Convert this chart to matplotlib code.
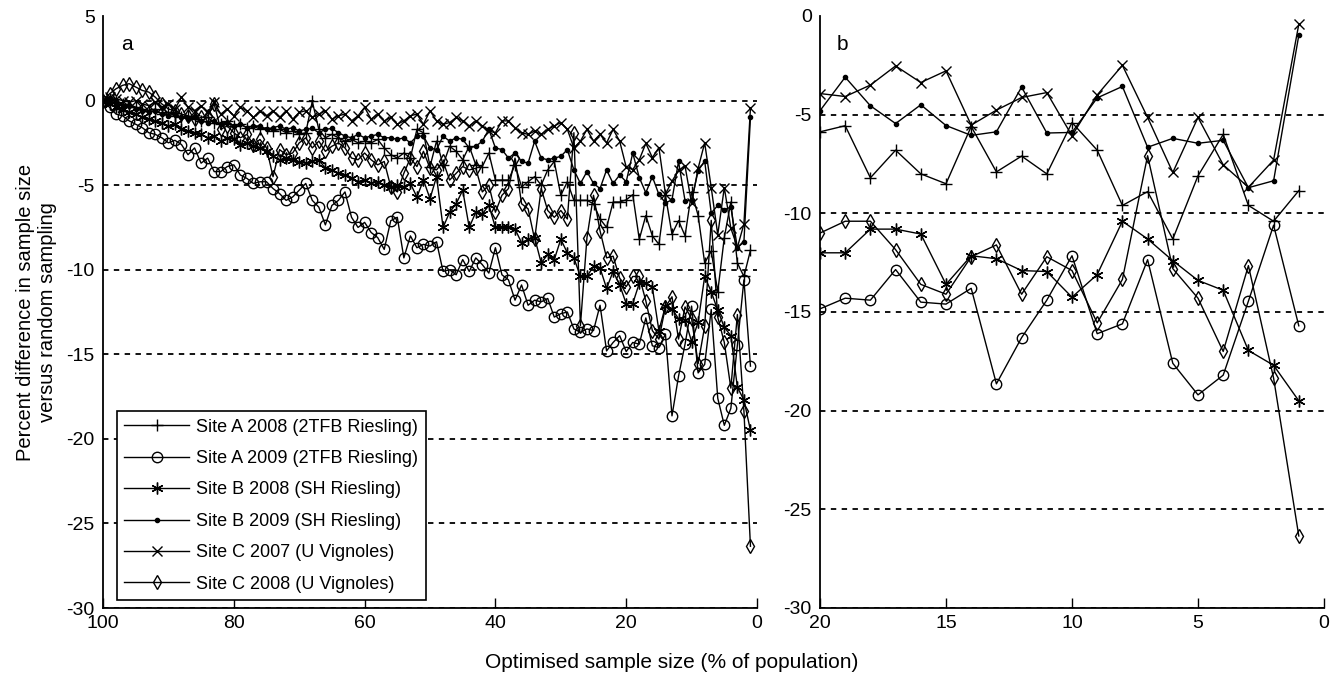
import numpy as np
import matplotlib
matplotlib.use("Agg")
import matplotlib.pyplot as plt

plt.rcParams['font.family'] = ['Liberation Sans', 'DejaVu Sans']
plt.rcParams['axes.unicode_minus'] = False

# sample size, % of population (100 down to 1)
sample_size = list(range(100, 0, -1))

site_a_2008 = [
    0, 0.1, -0.1, -0.2, -0.3, -0.4, -0.5, -0.6, -0.5, -0.8,
    -0.7, -0.9, -1.0, -0.9, -1.1, -1.2, -1.0, -1.3, -1.4, -1.2,
    -1.5, -1.4, -1.6, -1.5, -1.7, -1.6, -1.8, -1.7, -1.9, -1.8,
    -2.0, -1.9, -0.05, -1.7, -2.2, -2.0, -2.2, -2.4, -2.3, -2.5,
    -2.4, -2.5, -2.3, -2.8, -3.2, -3.4, -3.1, -3.4, -1.7, -1.9,
    -3.9, -2.4, -3.8, -2.7, -3.0, -3.5, -2.7, -3.8, -3.9, -3.1,
    -4.7, -4.7, -4.7, -3.8, -5.1, -4.8, -4.5, -5.0, -4.1, -3.6,
    -5.6, -4.8, -5.9, -5.9, -5.9, -6.1, -7.0, -7.5, -6.0, -6.0,
    -5.87, -5.56, -8.2, -6.8, -8.0, -8.5, -5.6, -7.9, -7.1, -8.0,
    -5.4, -6.8, -9.6, -8.9, -11.3, -8.1, -6.0, -9.6, -10.4, -8.85,
]

site_a_2009 = [
    0, -0.4, -0.8, -0.9, -1.2, -1.4, -1.6, -1.9, -2.0, -2.2,
    -2.5, -2.35, -2.6, -3.2, -2.8, -3.7, -3.4, -4.2, -4.2, -3.9,
    -3.8, -4.4, -4.6, -4.9, -4.8, -4.8, -5.2, -5.5, -5.9, -5.7,
    -5.3, -4.9, -5.9, -6.3, -7.35, -6.2, -5.9, -5.4, -6.9, -7.5,
    -7.2, -7.8, -8.1, -8.8, -7.1, -6.9, -9.3, -8.0, -8.7, -8.5,
    -8.6, -8.35, -10.1, -10.0, -10.3, -9.4, -10.1, -9.3, -9.7, -10.2,
    -8.7, -10.3, -10.6, -11.8, -10.9, -12.1, -11.8, -11.9, -11.7, -12.8,
    -12.6, -12.5, -13.5, -13.7, -13.5, -13.6, -12.1, -14.8, -14.3, -13.9,
    -14.84, -14.3, -14.4, -12.85, -14.5, -14.6, -13.8, -18.64, -16.3, -14.4,
    -12.15, -16.1, -15.6, -12.35, -17.6, -19.2, -18.2, -14.45, -10.6, -15.7,
]

site_b_2008 = [
    0, -0.2, -0.4, -0.5, -0.7, -0.8, -1.0, -1.1, -1.2, -1.3,
    -1.5, -1.4, -1.7, -1.8, -1.9, -2.0, -2.2, -2.1, -2.4, -2.2,
    -2.3, -2.6, -2.5, -2.7, -2.8, -3.0, -3.3, -3.5, -3.4, -3.5,
    -3.65, -3.7, -3.6, -3.5, -4.0, -4.1, -4.3, -4.4, -4.6, -4.8,
    -4.7, -4.9, -4.8, -5.0, -5.1, -5.0, -5.1, -4.9, -5.7, -4.7,
    -5.8, -4.5, -7.5, -6.6, -6.1, -5.3, -7.5, -6.6, -6.7, -6.2,
    -7.5, -7.5, -7.5, -7.6, -8.4, -8.2, -8.1, -9.6, -9.1, -9.4,
    -8.2, -9.0, -9.3, -10.4, -10.4, -9.8, -9.9, -11.1, -10.1, -10.9,
    -12.0, -12.0, -10.8, -10.8, -11.05, -13.6, -12.15, -12.3, -12.9, -12.95,
    -14.25, -13.1, -10.4, -11.3, -12.4, -13.4, -13.9, -16.95, -17.7, -19.5,
]

site_b_2009 = [
    0, -0.1, -0.2, -0.3, -0.3, -0.5, -0.6, -0.7, -0.6, -0.8,
    -0.9, -0.8, -1.0, -1.1, -1.0, -1.2, -1.3, -1.2, -1.4, -1.3,
    -1.5, -1.4, -1.6, -1.5, -1.5, -1.7, -1.6, -1.5, -1.7, -1.6,
    -1.8, -1.7, -1.65, -1.9, -1.7, -1.65, -1.9, -2.1, -2.2, -2.0,
    -2.2, -2.1, -2.0, -2.2, -2.2, -2.3, -2.2, -2.5, -2.1, -2.1,
    -2.8, -2.9, -2.1, -2.4, -2.2, -2.3, -2.8, -2.7, -2.4, -1.7,
    -2.8, -2.9, -3.4, -3.1, -3.6, -3.7, -2.4, -3.4, -3.5, -3.4,
    -3.3, -2.9, -4.1, -4.9, -4.2, -4.9, -5.2, -4.1, -4.9, -4.4,
    -4.8, -3.1, -4.55, -5.45, -4.5, -5.55, -6.05, -5.87, -3.6, -5.93,
    -5.9, -4.15, -3.57, -6.65, -6.2, -6.45, -6.3, -8.7, -8.35, -0.98,
]

site_c_2007 = [
    0, 0.2, 0.1, 0.0, -0.1, 0.0, -0.2, -0.3, -0.1, -0.4,
    -0.2, -0.5, 0.2, -0.4, -0.6, -0.3, -0.7, -0.1, -0.8, -0.5,
    -0.9, -0.4, -0.6, -1.0, -0.6, -0.9, -0.6, -1.0, -0.6, -1.1,
    -0.7, -0.6, -1.0, -0.8, -0.6, -1.1, -0.9, -0.8, -1.2, -0.9,
    -0.4, -1.1, -0.8, -1.2, -1.0, -1.4, -1.2, -0.9, -0.8, -1.4,
    -0.6, -1.2, -1.4, -1.3, -1.0, -1.2, -1.5, -1.2, -1.5, -1.8,
    -1.9, -1.2, -1.2, -1.6, -1.9, -2.0, -1.8, -2.0, -1.7, -1.5,
    -1.3, -1.7, -2.8, -2.4, -1.7, -2.4, -2.0, -2.5, -1.7, -2.4,
    -3.93, -4.08, -3.5, -2.53, -3.37, -2.78, -5.53, -4.77, -4.13, -3.88,
    -6.07, -4.0, -2.5, -5.14, -7.93, -5.14, -7.54, -8.68, -7.3, -0.42,
]

site_c_2008 = [
    0, 0.4, 0.7, 0.9, 1.0, 0.8, 0.6, 0.5, 0.2, -0.2,
    -0.5, -0.6, -0.8, -0.9, -1.1, -1.0, -0.9, -0.2, -1.7, -1.5,
    -1.9, -2.2, -2.0, -2.6, -2.3, -2.8, -4.5, -2.9, -3.2, -3.1,
    -2.5, -2.2, -2.8, -2.4, -3.0, -2.7, -2.5, -2.8, -3.4, -3.5,
    -3.1, -3.5, -3.8, -3.6, -5.1, -5.4, -4.3, -3.4, -3.9, -3.0,
    -4.0, -4.1, -3.6, -4.7, -4.3, -3.9, -4.1, -4.0, -5.4, -5.0,
    -6.6, -5.6, -5.2, -3.4, -6.1, -6.4, -8.2, -5.2, -6.5, -6.9,
    -6.5, -7.0, -1.9, -13.3, -8.1, -5.6, -7.7, -9.3, -9.2, -10.5,
    -11.0, -10.4, -10.4, -11.84, -13.6, -14.1, -12.2, -11.6, -14.1, -12.2,
    -12.9, -15.55, -13.35, -7.08, -12.8, -14.3, -17.0, -12.65, -18.35, -26.35,
]

labels = [
    'Site A 2008 (2TFB Riesling)',
    'Site A 2009 (2TFB Riesling)',
    'Site B 2008 (SH Riesling)',
    'Site B 2009 (SH Riesling)',
    'Site C 2007 (U Vignoles)',
    'Site C 2008 (U Vignoles)',
]
series = [site_a_2008, site_a_2009, site_b_2008, site_b_2009, site_c_2007, site_c_2008]
markers = ['+', 'o', (6, 2, 0), '.', 'x', 'd']
msizes = [9, 7.5, 8.5, 6, 7.5, 7.5]

x = np.array(sample_size)

fig = plt.figure(figsize=(13.44, 6.79), dpi=100)
ax_a = fig.add_axes([103 / 1344, 1 - 608 / 679, 654 / 1344, 592 / 679])
ax_b = fig.add_axes([820 / 1344, 1 - 608 / 679, 504 / 1344, 592 / 679])


def style(ax, ylim, yticks, xlim, xticks):
    ax.set_xlim(*xlim)
    ax.set_ylim(*ylim)
    ax.set_yticks(yticks)
    ax.set_yticklabels([str(t) for t in yticks])
    ax.set_xticks(xticks)
    ax.set_xticklabels([str(t) for t in xticks])
    for t in yticks[1:]:
        ax.axhline(t, color='black', linestyle=(0, (3, 3)), linewidth=1.3, zorder=0)
    ax.spines['top'].set_visible(False)
    ax.spines['right'].set_visible(False)
    ax.spines['left'].set_linewidth(1.3)
    ax.spines['bottom'].set_linewidth(1.3)
    ax.tick_params(direction='in', length=7, width=1, labelsize=14, pad=5)
    ax.tick_params(axis='y', length=0, pad=6)


for vals, mk, ms, lab in zip(series, markers, msizes, labels):
    v = np.array(vals)
    fc = 'black' if mk == '.' else 'none'
    ax_a.plot(x, v, color='black', linewidth=1, marker=mk, markersize=ms,
              markerfacecolor=fc, markeredgecolor='black', markeredgewidth=1, label=lab)
    m = x <= 20
    ax_b.plot(x[m], v[m], color='black', linewidth=1, marker=mk, markersize=ms,
              markerfacecolor=fc, markeredgecolor='black', markeredgewidth=1)

style(ax_a, (-30, 5), [5, 0, -5, -10, -15, -20, -25, -30], (100, 0), [100, 80, 60, 40, 20, 0])
style(ax_b, (-30, 0), [0, -5, -10, -15, -20, -25, -30], (20, 0), [20, 15, 10, 5, 0])

ax_a.text(24 / 654, (608 - 45) / 592, 'a', transform=ax_a.transAxes, fontsize=15,
          ha='center', va='center')
ax_b.text(22 / 504, (608 - 45) / 592, 'b', transform=ax_b.transAxes, fontsize=15,
          ha='center', va='center')

leg = ax_a.legend(loc='lower left', bbox_to_anchor=(14 / 654, 8 / 592), borderaxespad=0,
                  fontsize=13, handlelength=3.6, handletextpad=0.4, labelspacing=0.8,
                  borderpad=0.4, fancybox=False, framealpha=1)
leg.get_frame().set_edgecolor('black')
leg.get_frame().set_linewidth(1.2)

ax_a.set_ylabel('Percent difference in sample size\nversus random sampling', fontsize=14.5,
                labelpad=7)
fig.text(0.5, 1 - 662 / 679, 'Optimised sample size (% of population)', ha='center',
         va='center', fontsize=15)

fig.savefig('out.png', dpi=100)
